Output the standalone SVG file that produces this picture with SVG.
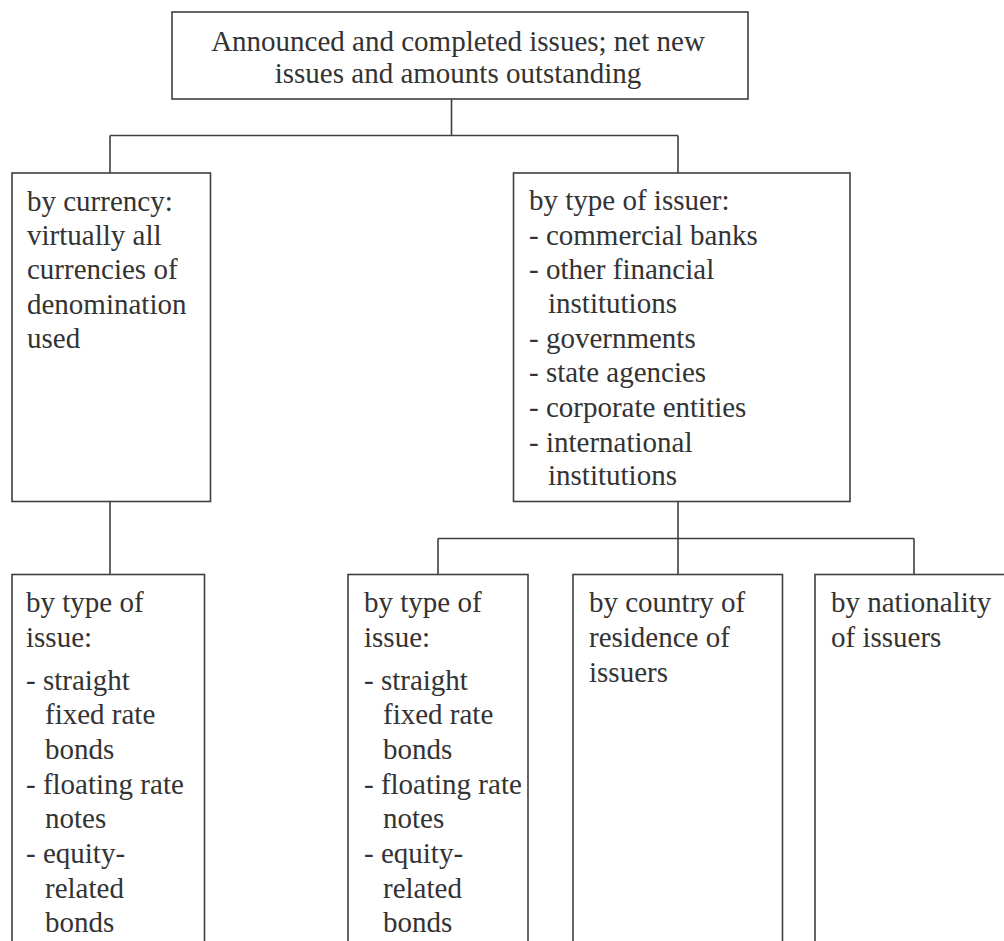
<svg xmlns="http://www.w3.org/2000/svg" width="1004" height="941" viewBox="0 0 1004 941">
<style>
.box{fill:#fff;stroke:#3f3f3f;stroke-width:1.6}
.ln{fill:none;stroke:#3f3f3f;stroke-width:1.6}
.c{text-anchor:middle}
</style>
<rect width="1004" height="941" fill="#fff"/>
<g id="connectors">
<path class="ln" d="M451.5 99V135.5M110 135.5H678M110 135.5V173M678 135.5V173"/>
<path class="ln" d="M110 501.5V574.5"/>
<path class="ln" d="M678 501.5V538.5M438 538.5H914M438 538.5V574.5M678 538.5V574.5M914 538.5V574.5"/>
</g>
<g font-family="'Liberation Serif', 'Times New Roman', 'DejaVu Serif', serif" font-size="29" fill="#333">
<g id="root">
<rect class="box" x="172" y="12" width="576" height="87"/>
<text class="c" x="458" y="51">Announced and completed issues; net new</text>
<text class="c" x="458" y="83">issues and amounts outstanding</text>
</g>
<g id="by-currency">
<rect class="box" x="12" y="173" width="198.5" height="328.5"/>
<text x="27" y="211">by currency:</text>
<text x="27" y="245">virtually all</text>
<text x="27" y="279">currencies of</text>
<text x="27" y="314">denomination</text>
<text x="27" y="348">used</text>
</g>
<g id="by-type-of-issuer">
<rect class="box" x="513.5" y="173" width="336.5" height="328.5"/>
<text x="529" y="210">by type of issuer:</text>
<text x="529" y="245">- commercial banks</text>
<text x="529" y="279">- other financial</text>
<text x="548" y="313">institutions</text>
<text x="529" y="348">- governments</text>
<text x="529" y="382">- state agencies</text>
<text x="529" y="417">- corporate entities</text>
<text x="529" y="452">- international</text>
<text x="548" y="485">institutions</text>
</g>
<g id="type-of-issue-1">
<rect class="box" x="12" y="574.5" width="192.5" height="380"/>
<text x="26" y="612">by type of</text>
<text x="26" y="647">issue:</text>
<text x="26" y="690">- straight</text>
<text x="45" y="724">fixed rate</text>
<text x="45" y="759">bonds</text>
<text x="26" y="794">- floating rate</text>
<text x="45" y="828">notes</text>
<text x="26" y="863">- equity-</text>
<text x="45" y="898">related</text>
<text x="45" y="932">bonds</text>
</g>
<g id="type-of-issue-2">
<rect class="box" x="348" y="574.5" width="180" height="380"/>
<text x="364" y="612">by type of</text>
<text x="364" y="647">issue:</text>
<text x="364" y="690">- straight</text>
<text x="383" y="724">fixed rate</text>
<text x="383" y="759">bonds</text>
<text x="364" y="794">- floating rate</text>
<text x="383" y="828">notes</text>
<text x="364" y="863">- equity-</text>
<text x="383" y="898">related</text>
<text x="383" y="932">bonds</text>
</g>
<g id="country-of-residence">
<rect class="box" x="573" y="574.5" width="209.5" height="380"/>
<text x="589" y="612">by country of</text>
<text x="589" y="647">residence of</text>
<text x="589" y="682">issuers</text>
</g>
<g id="nationality">
<rect class="box" x="815" y="574.5" width="200" height="380"/>
<text x="831" y="612">by nationality</text>
<text x="831" y="647">of issuers</text>
</g>
</g>
</svg>
